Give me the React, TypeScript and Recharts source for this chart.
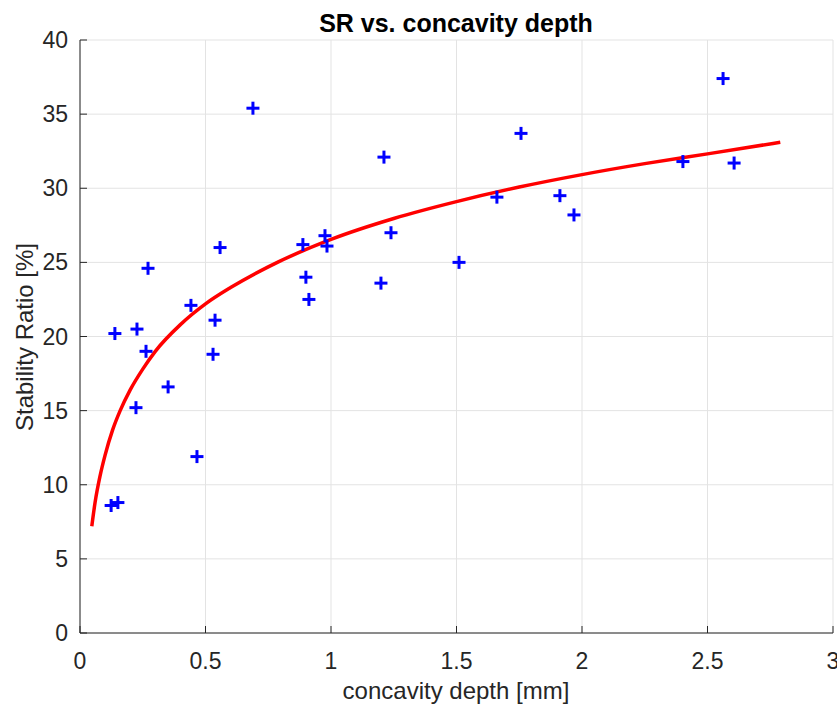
import { ComposedChart, Scatter, Line, XAxis, YAxis, CartesianGrid } from 'recharts'

// measured points: concavity depth [mm] vs stability ratio [%]
const depthMm = [0.124, 0.151, 0.139, 0.227, 0.223, 0.263, 0.271, 0.351, 0.442, 0.466, 0.53, 0.538, 0.558, 0.689, 0.888, 0.9, 0.912, 0.976, 0.984, 1.199, 1.211, 1.239, 1.51, 1.661, 1.757, 1.912, 1.968, 2.402, 2.562, 2.606]
const stabilityPct = [8.6, 8.8, 20.2, 20.5, 15.2, 19.0, 24.6, 16.6, 22.1, 11.9, 18.8, 21.1, 26.0, 35.4, 26.2, 24.0, 22.5, 26.8, 26.1, 23.6, 32.1, 27.0, 25.0, 29.4, 33.7, 29.5, 28.2, 31.8, 37.4, 31.7]

// fitted curve
const fitX = [0.047, 0.06, 0.08, 0.1, 0.13, 0.16, 0.2, 0.25, 0.3, 0.4, 0.5, 0.6, 0.75, 1, 1.25, 1.5, 1.75, 2, 2.25, 2.5, 2.79]
const fitY = [7.2, 8.8, 10.6, 12.0, 13.7, 15.0, 16.4, 17.8, 19.0, 20.8, 22.2, 23.3, 24.7, 26.55, 27.96, 29.1, 30.08, 30.92, 31.66, 32.32, 33.1]

const xTicks = [0, 0.5, 1, 1.5, 2, 2.5, 3]
const yTicks = [0, 5, 10, 15, 20, 25, 30, 35, 40]

const FONT = '"Liberation Sans", Arial, sans-serif'
const INK = '#262626'

const points = depthMm.map((x, i) => ({ x, y: stabilityPct[i] }))
const fit = fitX.map((x, i) => ({ x, y: fitY[i] }))

const Plus = (p: any) => {
  const { cx, cy } = p
  if (cx == null || cy == null) return null
  const r = 6.5
  return (
    <g stroke="#0000ff" strokeWidth={3}>
      <line x1={cx - r} y1={cy} x2={cx + r} y2={cy} />
      <line x1={cx} y1={cy - r} x2={cx} y2={cy + r} />
    </g>
  )
}

const XTick = ({ x, y, payload }: any) => (
  <g>
    <line x1={x} y1={y} x2={x} y2={y - 7} stroke={INK} />
    <text x={x} y={y + 36} textAnchor="middle" fontSize={23} fill={INK} fontFamily={FONT}>{payload.value}</text>
  </g>
)

const YTick = ({ x, y, payload }: any) => (
  <g>
    <line x1={x} y1={y} x2={x + 7} y2={y} stroke={INK} />
    <text x={x - 12} y={y + 8} textAnchor="end" fontSize={23} fill={INK} fontFamily={FONT}>{payload.value}</text>
  </g>
)

export default function App() {
  return (
    <div style={{ position: 'absolute', left: 0, top: 0, background: '#fff' }}>
      <ComposedChart width={837} height={707} margin={{ top: 40, right: 4, left: 0, bottom: 0 }}>
        <CartesianGrid stroke="#e3e3e3" strokeWidth={1} />
        <XAxis type="number" dataKey="x" domain={[0, 3]} ticks={xTicks} height={74}
          tickSize={0} tickMargin={0} tickLine={false} stroke={INK} tick={<XTick />} allowDataOverflow />
        <YAxis type="number" dataKey="y" domain={[0, 40]} ticks={yTicks} width={80}
          tickSize={0} tickMargin={0} tickLine={false} stroke={INK} tick={<YTick />} allowDataOverflow />
        <Line data={fit} dataKey="y" type="monotone" stroke="#ff0000" strokeWidth={3.5} dot={false} isAnimationActive={false} />
        <Scatter data={points} dataKey="y" shape={<Plus />} isAnimationActive={false} />
        <text x={456} y={32} textAnchor="middle" fontSize={25} fontWeight="bold" fill="#000" fontFamily={FONT}>SR vs. concavity depth</text>
        <text x={456} y={699} textAnchor="middle" fontSize={24} fill={INK} fontFamily={FONT}>concavity depth [mm]</text>
        <text x={33} y={337} textAnchor="middle" fontSize={24} fill={INK} fontFamily={FONT} transform="rotate(-90 33 337)">Stability Ratio [%]</text>
      </ComposedChart>
    </div>
  )
}
